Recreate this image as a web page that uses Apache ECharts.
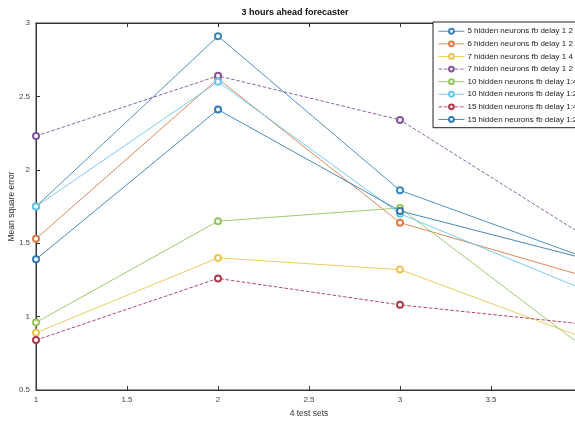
<!DOCTYPE html>
<html>
<head>
<meta charset="utf-8">
<script src="https://cdn.jsdelivr.net/npm/echarts@6/dist/echarts.min.js"></script>
<style>html,body{margin:0;padding:0;background:#fff}#c{width:575px;height:425px}</style>
</head>
<body>
<div id="c"></div>
<script>
var testSets = [1, 2, 3, 4];
var xTicks = [1, 1.5, 2, 2.5, 3, 3.5, 4];
var yTicks = [0.5, 1, 1.5, 2, 2.5, 3];
var seriesNames = [
  "5 hidden neurons fb delay 1 2",
  "6 hidden neurons fb delay 1 2",
  "7 hidden neurons fb delay 1 4",
  "7 hidden neurons fb delay 1 2",
  "10 hidden neurons fb delay 1:4",
  "10 hidden neurons fb delay 1:2",
  "15 hidden neurons fb delay 1:4",
  "15 hidden neurons fb delay 1:2"
];
var h5d12  = [1.75, 2.91, 1.86, 1.41];
var h6d12  = [1.53, 2.62, 1.64, 1.28];
var h7d14  = [0.89, 1.40, 1.32, 0.86];
var h7d12  = [2.23, 2.64, 2.34, 1.56];
var h10d14 = [0.96, 1.65, 1.74, 0.80];
var h10d12 = [1.75, 2.60, 1.70, 1.19];
var h15d14 = [0.84, 1.26, 1.08, 0.95];
var h15d12 = [1.39, 2.41, 1.72, 1.40];

var values = [h5d12, h6d12, h7d14, h7d12, h10d14, h10d12, h15d14, h15d12];
var colors = ['#3f84b6', '#dc7a48', '#ebc54e', '#82559a', '#95c45e', '#66c7ee', '#ab3a4e', '#357aae'];
var dashes = ['solid', 'solid', 'solid', 'dashed', 'solid', 'solid', 'dashed', 'solid'];

var series = values.map(function (v, i) {
  return {
    name: seriesNames[i],
    type: 'line',
    data: v.map(function (y, j) { return [testSets[j], y]; }),
    symbol: 'emptyCircle',
    symbolSize: 6,
    color: colors[i],
    lineStyle: { width: 0.9, type: dashes[i], color: colors[i] },
    itemStyle: { color: colors[i], borderWidth: 0.9 },
    animation: false,
    z: 3
  };
});

var font = 'Liberation Sans';
var chart = echarts.init(document.getElementById('c'), null, { renderer: 'canvas' });
chart.setOption({
  backgroundColor: '#fff',
  animation: false,
  title: {
    text: '3 hours ahead forecaster',
    left: 290, top: 3, textAlign: 'center',
    textStyle: { fontFamily: font, fontSize: 9, fontWeight: 'bold', color: '#111' }
  },
  grid: { left: 36, top: 23, width: 546, height: 367, outerBoundsMode: 'none', containLabel: false,
    show: true, borderColor: '#333', borderWidth: 1, backgroundColor: '#fff' },
  legend: {
    orient: 'vertical',
    left: 433, top: 22,
    padding: [5, 40, 4, 5],
    itemGap: 4.1,
    itemWidth: 26, itemHeight: 6,
    backgroundColor: '#fff',
    borderColor: '#222', borderWidth: 1,
    itemStyle: { borderWidth: 0.9 },
    lineStyle: { width: 0.9 },
    textStyle: { fontFamily: font, fontSize: 8, color: '#222', lineHeight: 8.5, padding: [0, 0, 0, -2] },
    data: seriesNames
  },
  xAxis: [{
    type: 'value', min: xTicks[0], max: xTicks[xTicks.length - 1], interval: 0.5,
    name: '4 test sets', nameLocation: 'middle', nameGap: 19,
    nameTextStyle: { fontFamily: font, fontSize: 8.5, color: '#333' },
    axisLine: { show: true, lineStyle: { color: '#333', width: 1 } },
    axisTick: { show: true, inside: true, length: 4, lineStyle: { color: '#333' } },
    axisLabel: { fontFamily: font, fontSize: 8, color: '#444', margin: 6,
      formatter: function (v) { return xTicks.indexOf(v) >= 0 ? String(v) : ''; } },
    splitLine: { show: false }
  }, {
    type: 'value', position: 'top', min: xTicks[0], max: xTicks[xTicks.length - 1], interval: 0.5,
    axisLine: { show: true, lineStyle: { color: '#333', width: 1 } },
    axisTick: { show: true, inside: true, length: 4, lineStyle: { color: '#333' } },
    axisLabel: { show: false }, splitLine: { show: false }
  }],
  yAxis: {
    type: 'value', min: yTicks[0], max: yTicks[yTicks.length - 1], interval: 0.5,
    name: 'Mean square error', nameLocation: 'middle', nameGap: 20, nameRotate: 90,
    nameMoveOverlap: false,
    nameTextStyle: { fontFamily: font, fontSize: 8.5, color: '#333' },
    axisLine: { show: true, lineStyle: { color: '#333', width: 1 } },
    axisTick: { show: true, inside: true, length: 4, lineStyle: { color: '#333' } },
    axisLabel: { fontFamily: font, fontSize: 8, color: '#444', margin: 6,
      formatter: function (v) { return yTicks.indexOf(v) >= 0 ? String(v) : ''; } },
    splitLine: { show: false }
  },
  series: series
});
</script>
</body>
</html>
